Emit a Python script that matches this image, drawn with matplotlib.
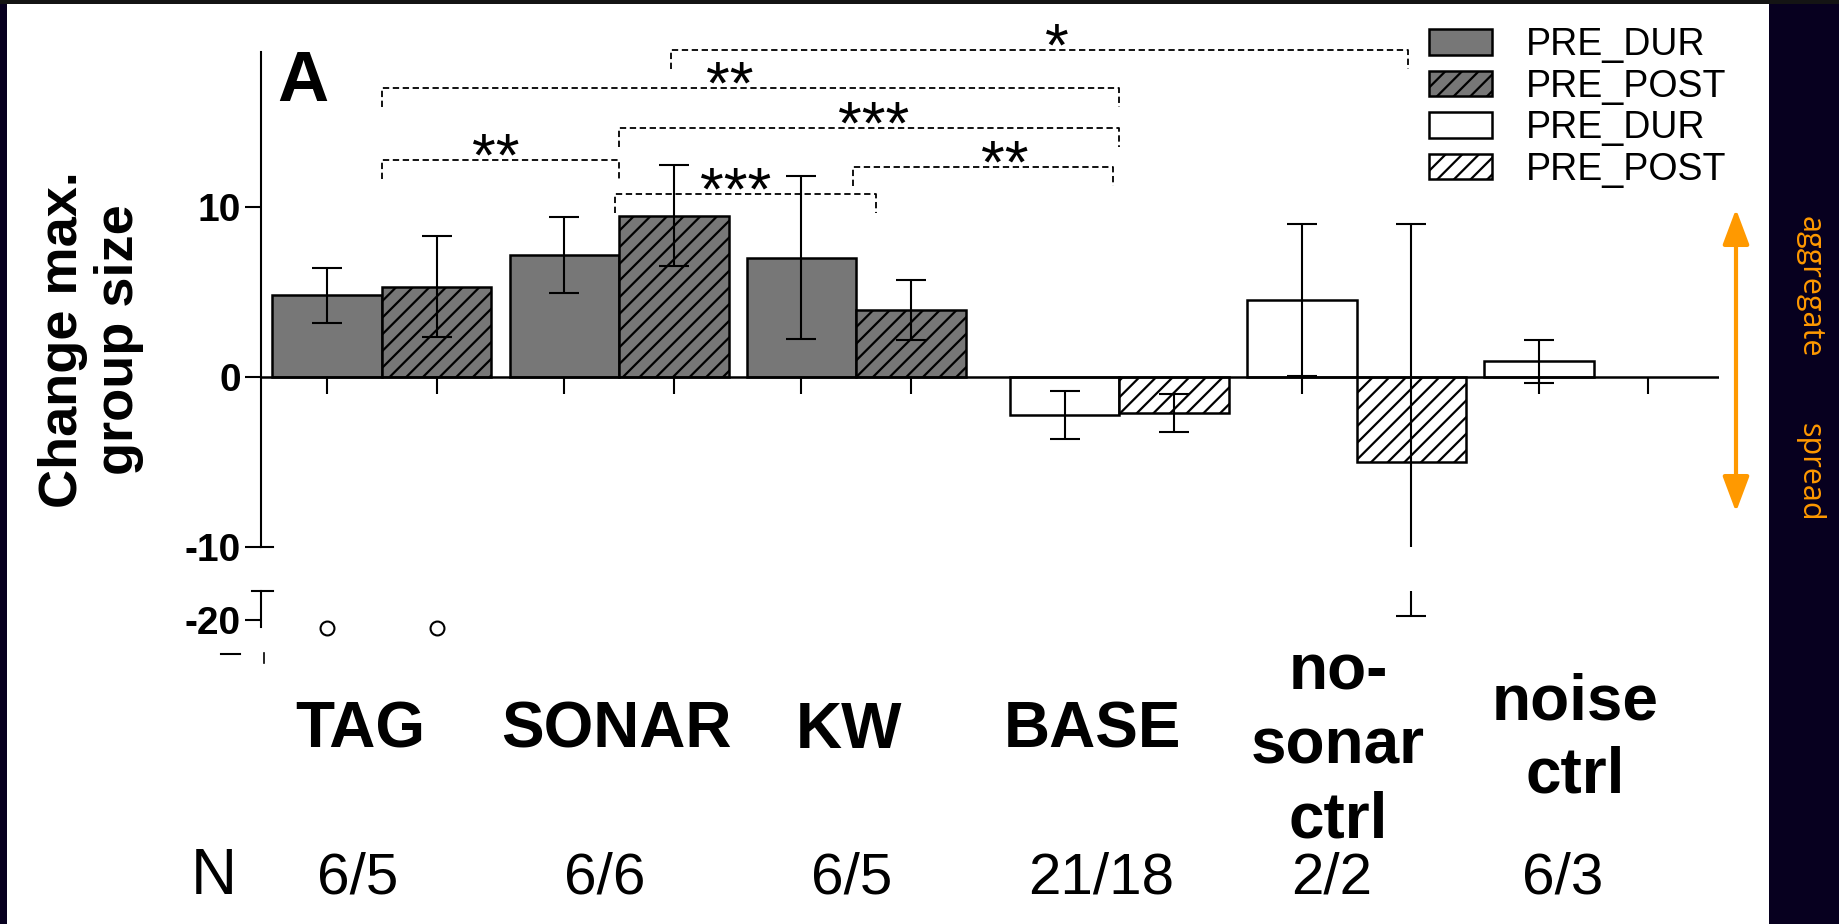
import numpy as np
import matplotlib
matplotlib.use("Agg")
import matplotlib.pyplot as plt
from matplotlib.patches import Rectangle, Patch, FancyArrowPatch
from matplotlib.transforms import blended_transform_factory
from matplotlib import font_manager

plt.rcParams['font.family'] = ['Liberation Sans', 'DejaVu Sans']
plt.rcParams['hatch.linewidth'] = 1.6

# ---- data ----
groups = ['TAG', 'SONAR', 'KW', 'BASE', 'no-\nsonar\nctrl', 'noise\nctrl']
n_labels = ['6/5', '6/6', '6/5', '21/18', '2/2', '6/3']
treated = [True, True, True, False, False, False]

pre_dur = [4.83, 7.2, 7.04, -2.23, 4.56, 0.94]
pre_dur_err = [1.62, 2.24, 4.79, 1.42, 4.45, 1.25]
pre_post = [5.34, 9.52, 3.97, -2.09, -5.0, np.nan]
pre_post_err = [2.97, 2.97, 1.78, 1.12, 14.0, np.nan]

outlier_vals = [-22, -22]   # TAG PRE_DUR, TAG PRE_POST

# significance brackets (x in bar units, y in data units)
sig_x0 = [2.64, 0.0, 2.165, 0.0, 2.13, 4.30]
sig_x1 = [9.37, 6.735, 6.735, 2.165, 4.51, 6.68]
sig_y = [19.26, 17.03, 14.66, 12.77, 10.77, 12.38]
sig_text = ['*', '**', '***', '**', '***', '**']
sig_text_x = [6.16, 3.18, 4.49, 1.04, 3.23, 5.69]

# ---- layout ----
W, H = 1839, 924
NAVY = '#07001f'
GRAY = '#777777'
ORANGE = '#ff9900'

names = {f.name for f in font_manager.fontManager.ttflist}
have_narrow = 'Liberation Sans Narrow' in names

def fx(px):
    return px / W

def fy(py):
    return 1 - py / H

gap = 2.165
centers = np.cumsum([0, gap, gap, gap + 0.24, gap, gap])
x_dur = centers - 0.5
x_post = centers + 0.5
xlim = (-1.105, 12.21)

fig = plt.figure(figsize=(W / 100, H / 100), dpi=100, facecolor=NAVY)
fig.add_artist(Rectangle((fx(7), 0), fx(1769) - fx(7), fy(4), transform=fig.transFigure,
                         facecolor='white', edgecolor='none', zorder=-5))
fig.add_artist(Rectangle((0, fy(4)), 1, 4 / H, transform=fig.transFigure,
                         facecolor='#141414', edgecolor='none', zorder=-5))

ax1 = fig.add_axes([fx(261), fy(547.3), fx(1719) - fx(261), (547.3 - 52) / H])
ax2 = fig.add_axes([fx(261), fy(626.7), fx(1719) - fx(261), (626.7 - 590.7) / H])

fills = [GRAY if t else 'white' for t in treated]
ax1.bar(x_dur, pre_dur, width=1.0, color=fills, edgecolor='black', linewidth=1.8, zorder=2)
ax1.bar(x_post, pre_post, width=1.0, color=fills, edgecolor='black', linewidth=1.8,
        hatch='//', zorder=2)

for ax in (ax1, ax2):
    ax.errorbar(x_dur, pre_dur, yerr=pre_dur_err, fmt='none', ecolor='black',
                elinewidth=1.5, capsize=10.5, capthick=1.5, zorder=3)
    ax.errorbar(x_post, pre_post, yerr=pre_post_err, fmt='none', ecolor='black',
                elinewidth=1.5, capsize=10.5, capthick=1.5, zorder=3)
    ax.set_xlim(*xlim)
    ax.set_facecolor('none')
    for s in ('top', 'right', 'bottom'):
        ax.spines[s].set_visible(False)
    ax.spines['left'].set_linewidth(1.5)
    ax.set_xticks([])
    ax.tick_params(axis='y', direction='out', length=11.5, width=1.5, pad=3,
                   labelsize=28)

ax1.set_ylim(-10, 19.15)
ax1.set_yticks([-10, 0, 10])
ax1.set_yticklabels(['-10', '0', '10'], fontweight='bold', fontsize=28)
ax2.set_ylim(-21.675, -12.675)
ax2.set_yticks([-20])
ax2.set_yticklabels(['-20'], fontweight='bold', fontsize=28)

# zero line with bar ticks hanging below it
ax1.axhline(0, color='black', lw=1.8, zorder=4)
ax1.vlines(np.concatenate([x_dur, x_post]), -0.98, 0, color='black', lw=1.5, zorder=1)

# break marks on the y axis
ax1.plot([xlim[0], xlim[0] + 0.107], [-10, -10], color='black', lw=1.5, clip_on=False)
ax2.plot([xlim[0] - 0.085, xlim[0] + 0.107], [-12.675, -12.675], color='black', lw=1.5,
         clip_on=False)
ax2.plot([-1.47, -1.297], [-28.5, -28.5], color='black', lw=1.5, clip_on=False)
ax2.plot([-1.078, -1.078], [-28.25, -30.75], color='black', lw=1.2, clip_on=False)

# outliers
ax2.plot([x_dur[0], x_post[0]], outlier_vals, 'o', mfc='white', mec='black', ms=10,
         mew=1.5, clip_on=False, zorder=5)

# significance brackets
for x0, x1, y, txt, tx in zip(sig_x0, sig_x1, sig_y, sig_text, sig_text_x):
    ax1.plot([x0, x0, x1, x1], [y - 1.12, y, y, y - 1.12], color='black', lw=1.3,
             ls=(0, (3.5, 2)), clip_on=False, zorder=1)
    ax1.annotate(txt, (tx, y), xytext=(0, -11), textcoords='offset points',
                 ha='center', va='baseline', fontsize=44, annotation_clip=False)

# legend
handles = [Patch(facecolor=GRAY, edgecolor='black', lw=1.8),
           Patch(facecolor=GRAY, edgecolor='black', lw=1.8, hatch='//'),
           Patch(facecolor='white', edgecolor='black', lw=1.8),
           Patch(facecolor='white', edgecolor='black', lw=1.8, hatch='//')]
fig.legend(handles, ['PRE_DUR', 'PRE_POST', 'PRE_DUR', 'PRE_POST'],
           loc='upper left', bbox_to_anchor=(fx(1429), fy(27)), frameon=False,
           fontsize=27, handlelength=1.68, handleheight=0.67, handletextpad=0.9,
           labelspacing=0.15, borderpad=0, borderaxespad=0)

# panel letter and y label
fig.text(fx(303), fy(50), 'A', fontsize=51, fontweight='bold', ha='center', va='top')
if have_narrow:
    fig.text(fx(91), fy(340), 'Change max.\ngroup size', family='Liberation Sans Narrow',
             fontsize=47, fontweight='bold', rotation=90, ha='center', va='center',
             multialignment='center', linespacing=0.92)
else:
    fig.text(fx(91), fy(340), 'Change max.\ngroup size', fontsize=39, fontweight='bold',
             rotation=90, ha='center', va='center', multialignment='center',
             linespacing=1.15)

# category labels and sample sizes
trans = blended_transform_factory(ax1.transData, fig.transFigure)
label_shift = [-0.2, -0.02, -0.07, -0.25, -0.17, -0.17]
n_shift = [-0.22, -0.13, -0.04, -0.17, -0.23, -0.28]
for c, g, n, s, sn in zip(centers, groups, n_labels, label_shift, n_shift):
    nlines = g.count('\n') + 1
    fig.text(c + s, fy(701 - 29 * (nlines - 1)), g, transform=trans, fontsize=46,
             fontweight='bold', ha='center', va='top', linespacing=1.29)
    fig.text(c + sn, fy(894), n, transform=trans, fontsize=42, ha='center',
             va='baseline')
fig.text(fx(214), fy(894), 'N', fontsize=46, ha='center', va='baseline')

# aggregate / spread arrow
fig.add_artist(FancyArrowPatch((fx(1736), fy(512)), (fx(1736), fy(209)),
                               transform=fig.transFigure,
                               arrowstyle='<|-|>,head_length=0.72,head_width=0.27',
                               mutation_scale=30, color=ORANGE, lw=3,
                               shrinkA=0, shrinkB=0))
fig.text(fx(1810), fy(287), 'aggregate', rotation=-90, color=ORANGE, fontsize=22,
         family=['Open Sans', 'DejaVu Sans'], ha='center', va='center')
fig.text(fx(1810), fy(472), 'spread', rotation=-90, color=ORANGE, fontsize=22,
         family=['Open Sans', 'DejaVu Sans'], ha='center', va='center')

fig.savefig('out.png', dpi=100, facecolor=NAVY)
